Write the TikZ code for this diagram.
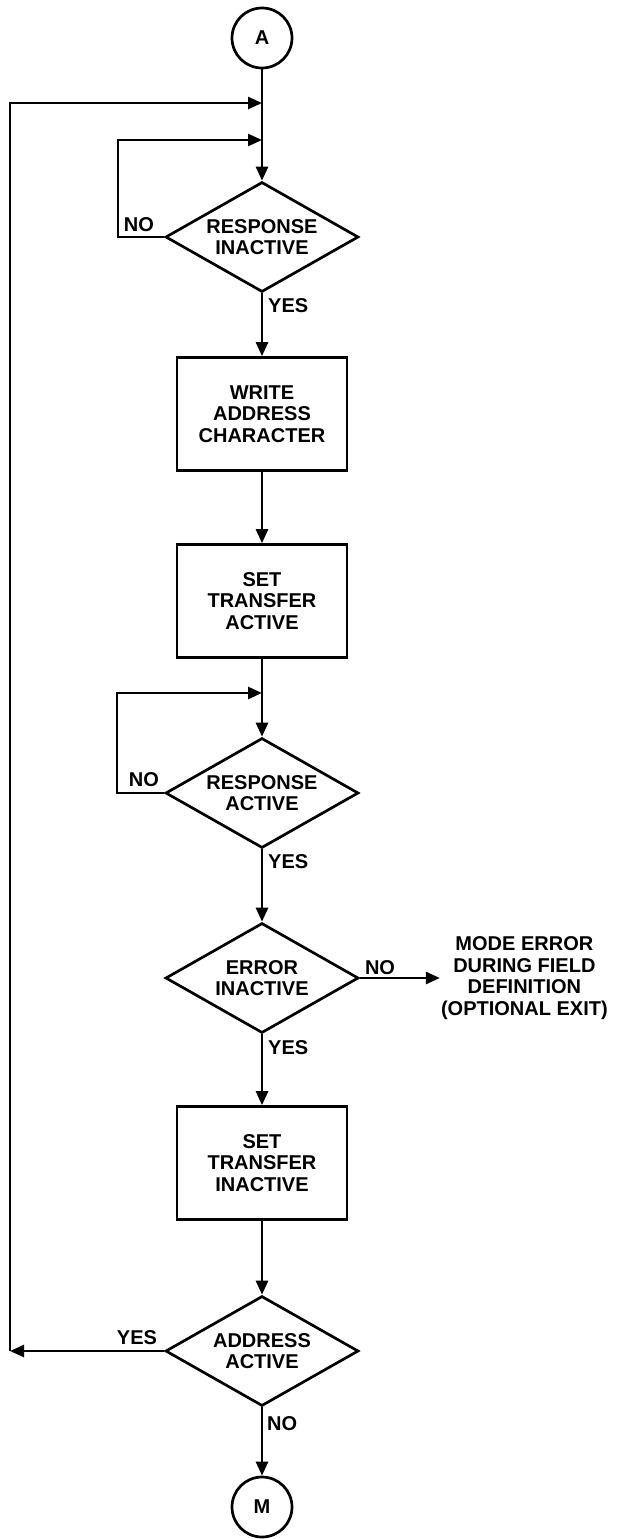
\documentclass[tikz,border=0pt]{standalone}
\usepackage{fontspec}
\setmainfont{Liberation Sans}
\usepackage{tikz}
\usetikzlibrary{shapes.geometric, arrows.meta, positioning}
\tikzset{
    chartfont/.style={font=\fontsize{20}{21.5}\selectfont\bfseries},
    connector/.style={draw, circle, line width=2.7pt, minimum size=60pt, inner sep=0pt, chartfont},
    procbox/.style={draw, rectangle, line width=2.7pt, minimum width=170pt, minimum height=113pt, align=center, chartfont},
    decision/.style={draw, diamond, aspect=1.75, line width=2.7pt, minimum width=193pt, minimum height=110pt, inner sep=0pt, align=center, chartfont},
    flowarrow/.style={-{Triangle[length=14pt, width=12pt]}, line width=2.7pt},
    answer/.style={inner sep=1pt, chartfont},
}
\begin{document}
\begin{tikzpicture}[x=1pt, y=-1pt]
                \useasboundingbox (0,0) rectangle (622,1539);
                \node[connector] (starta) at (262,38) {A};
                \node[decision] (respinactive) at (262,237) {RESPONSE\\INACTIVE};
                \node[procbox] (writeaddr) at (262,414) {WRITE\\ADDRESS\\CHARACTER};
                \node[procbox] (setactive) at (262,601) {SET\\TRANSFER\\ACTIVE};
                \node[decision] (respactive) at (262,793) {RESPONSE\\ACTIVE};
                \node[decision] (errinactive) at (262,978) {ERROR\\INACTIVE};
                \node[procbox] (setinactive) at (262,1163) {SET\\TRANSFER\\INACTIVE};
                \node[decision] (addractive) at (262,1351) {ADDRESS\\ACTIVE};
                \node[connector] (exitm) at (262,1507) {M};
                \node[answer, align=center, right=80pt of errinactive] (modeerror) {MODE ERROR\\DURING FIELD\\DEFINITION\\(OPTIONAL EXIT)};
                \coordinate (joinouter) at (262,103);
                \coordinate (joinloopa) at (262,140);
                \coordinate (joinloopb) at (262,693);
                \coordinate (cornera) at (118,140);
                \coordinate (cornerb) at (117,693);
                \coordinate (returnend) at (10,1351);
                \draw[flowarrow] (starta) -- (respinactive);
                \draw[flowarrow] (respinactive.west) -| (cornera) -- (joinloopa);
                \draw[flowarrow] (respinactive) -- (writeaddr);
                \draw[flowarrow] (writeaddr) -- (setactive);
                \draw[flowarrow] (setactive) -- (respactive);
                \draw[flowarrow] (respactive.west) -| (cornerb) -- (joinloopb);
                \draw[flowarrow] (respactive) -- (errinactive);
                \draw[flowarrow] (errinactive.east) -- (modeerror.west);
                \draw[flowarrow] (errinactive) -- (setinactive);
                \draw[flowarrow] (setinactive) -- (addractive);
                \draw[flowarrow] (addractive.west) -- (returnend);
                \draw[flowarrow] (returnend) |- (joinouter);
                \draw[flowarrow] (addractive) -- (exitm);
                \node[answer, above left=4pt and 9pt of respinactive.west] {NO};
                \node[answer, below right=4pt and 5pt of respinactive.south] {YES};
                \node[answer, above left=5pt and 4pt of respactive.west] {NO};
                \node[answer, below right=4pt and 5pt of respactive.south] {YES};
                \node[answer, above right=2pt and 4pt of errinactive.east] {NO};
                \node[answer, below right=5pt and 5pt of errinactive.south] {YES};
                \node[answer, above left=5pt and 6pt of addractive.west] {YES};
                \node[answer, below right=8pt and 4pt of addractive.south] {NO};
            \end{tikzpicture}
\end{document}
